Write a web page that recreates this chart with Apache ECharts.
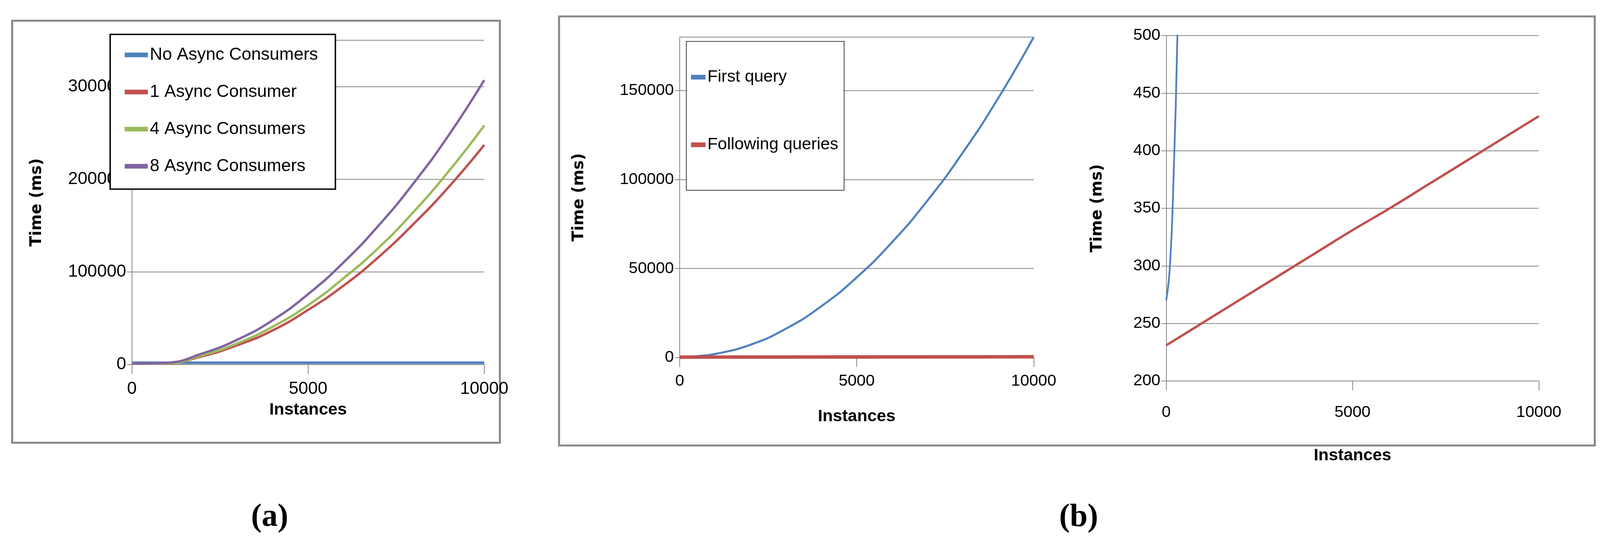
<!DOCTYPE html>
<html>
<head>
<meta charset="utf-8">
<script src="https://cdn.jsdelivr.net/npm/echarts@6/dist/echarts.min.js"></script>
<style>html,body{margin:0;padding:0;background:#fff;overflow:hidden}#main{width:100vw;height:100vh}</style>
</head>
<body>
<div id="main"></div>
<script>
// instances, step 1000
const instances = [0, 1000, 2000, 3000, 4000, 5000, 6000, 7000, 8000, 9000, 10000];
// panel (a)
const noAsync = [2000, 2000, 2000, 2000, 2000, 2000, 2000, 2000, 2000, 2000, 2000];
const async1 = [1000, 1500, 9000, 21000, 37000, 59000, 85000, 116000, 152000, 192000, 237000];
const async4 = [1000, 1500, 10000, 23000, 41000, 64000, 93000, 126000, 165000, 209000, 258000];
const async8 = [1000, 2000, 12000, 27000, 48000, 76000, 110000, 150000, 196000, 248000, 307000];
// panel (b)
const firstX = [0, 100, 200, 300, 500, 1000, 2000, 3000, 4000, 5000, 6000, 7000, 8000, 9000, 10000];
const firstQuery = [270, 300, 380, 500, 800, 2000, 7200, 16200, 28800, 45000, 64800, 88200, 115200, 145800, 180000];
const following = [231, 251, 271, 291, 311, 331, 350, 370, 390, 410, 430];

const pair = (xs, ys) => xs.map((x, i) => [x, ys[i]]);
const el = document.getElementById('main');
// layout is designed at 5518x1428, scaled to the real window
const sx = el.clientWidth / 5518, sy = el.clientHeight / 1428, sf = Math.min(sx, sy);
const X = v => v * sx, Y = v => v * sy, F = v => v * sf;
const font = '"Liberation Sans Narrow", "Liberation Sans", "Open Sans", sans-serif';
const C = { blue: '#4F81BD', red: '#C0504D', green: '#9BBB59', purple: '#8064A2' };

const xAxisBase = (gi, labelSize, nameGap, margin) => ({
  type: 'value', gridIndex: gi, min: 0, max: 10000, interval: 5000,
  name: 'Instances', nameLocation: 'middle', nameGap: Y(nameGap),
  nameTextStyle: { fontFamily: font, fontSize: F(58), fontWeight: 'bold', color: '#000' },
  axisLine: { lineStyle: { color: '#888', width: 2 } },
  axisTick: { show: true, length: Y(24), lineStyle: { color: '#888', width: 2 } },
  axisLabel: { fontFamily: font, fontSize: F(labelSize), color: '#000', margin: Y(margin), formatter: v => String(v) },
  splitLine: { show: false }
});
const yAxisBase = (gi, min, max, interval, labelSize, nameGap) => ({
  type: 'value', gridIndex: gi, min: min, max: max, interval: interval,
  name: 'Time (ms)', nameLocation: 'middle', nameGap: X(nameGap),
  nameTextStyle: { fontFamily: 'DejaVu Sans', fontSize: F(54), fontWeight: 'bold', color: '#000' },
  axisLine: { show: true, lineStyle: { color: '#888', width: 2 } },
  axisTick: { show: true, length: X(16), lineStyle: { color: '#888', width: 2 } },
  axisLabel: { fontFamily: font, fontSize: F(labelSize), color: '#000', margin: X(20),
    showMaxLabel: max % interval === 0, formatter: v => String(v) },
  splitLine: { lineStyle: { color: '#888', width: 2 } }
});
const line = (name, data, color, xi, width) => ({
  type: 'line', name: name, data: data, xAxisIndex: xi, yAxisIndex: xi,
  showSymbol: false, smooth: true, clip: true, lineStyle: { color: color, width: F(width) },
  itemStyle: { color: color }
});

const chart = echarts.init(el);
chart.setOption({
  animation: false,
  grid: [
    { left: X(455), top: Y(103), width: X(1215), height: Y(830) },
    { left: X(2344), top: Y(95), width: X(1221), height: Y(820) },
    { left: X(4022), top: Y(91), width: X(1285), height: Y(884) }
  ],
  xAxis: [xAxisBase(0, 60, 95, 40), xAxisBase(1, 56, 130, 40), xAxisBase(2, 56, 170, 60)],
  yAxis: [
    yAxisBase(0, 0, 350000, 100000, 60, 300),
    yAxisBase(1, 0, 180000, 50000, 56, 320),
    yAxisBase(2, 200, 500, 50, 56, 210)
  ],
  legend: [
    {
      data: ['No Async Consumers', '1 Async Consumer', '4 Async Consumers', '8 Async Consumers'],
      orient: 'vertical', left: X(380), top: Y(88), width: X(840),
      padding: [Y(30), X(60), Y(36), X(50)],
      itemGap: Y(50), itemWidth: X(80), itemHeight: Y(12), icon: 'rect',
      borderColor: '#000', borderWidth: F(5), backgroundColor: '#fff',
      textStyle: { fontFamily: font, fontSize: F(60), color: '#000' }
    },
    {
      data: ['First query', 'Following queries'],
      orient: 'vertical', left: X(2367), top: Y(106),
      padding: [Y(70), X(20), Y(95), X(16)],
      itemGap: Y(130), itemWidth: X(50), itemHeight: Y(12), icon: 'rect',
      borderColor: '#000', borderWidth: F(2), backgroundColor: '#fff',
      textStyle: { fontFamily: font, fontSize: F(58), color: '#000' }
    }
  ],
  series: [
    line('No Async Consumers', pair(instances, noAsync), C.blue, 0, 9),
    line('1 Async Consumer', pair(instances, async1), C.red, 0, 8),
    line('4 Async Consumers', pair(instances, async4), C.green, 0, 8),
    line('8 Async Consumers', pair(instances, async8), C.purple, 0, 8),
    line('First query', pair(firstX, firstQuery), C.blue, 1, 7),
    line('Following queries', pair(instances, following), C.red, 1, 12),
    line('First query', pair(firstX, firstQuery), C.blue, 2, 6),
    line('Following queries', pair(instances, following), C.red, 2, 8)
  ],
  graphic: [
    { type: 'rect', shape: { x: X(42), y: Y(53), width: X(1682), height: Y(1080) }, style: { fill: 'none', stroke: '#888', lineWidth: F(7) } },
    { type: 'rect', shape: { x: X(1928), y: Y(42), width: X(3572), height: Y(1098) }, style: { fill: 'none', stroke: '#888', lineWidth: F(7) } },
    { type: 'text', x: X(930), y: Y(1325), style: { text: '(a)', textAlign: 'center', textVerticalAlign: 'middle', font: 'bold ' + F(110) + 'px "Liberation Serif", serif', fill: '#000' } },
    { type: 'text', x: X(3720), y: Y(1325), style: { text: '(b)', textAlign: 'center', textVerticalAlign: 'middle', font: 'bold ' + F(110) + 'px "Liberation Serif", serif', fill: '#000' } }
  ]
});
</script>
</body>
</html>
